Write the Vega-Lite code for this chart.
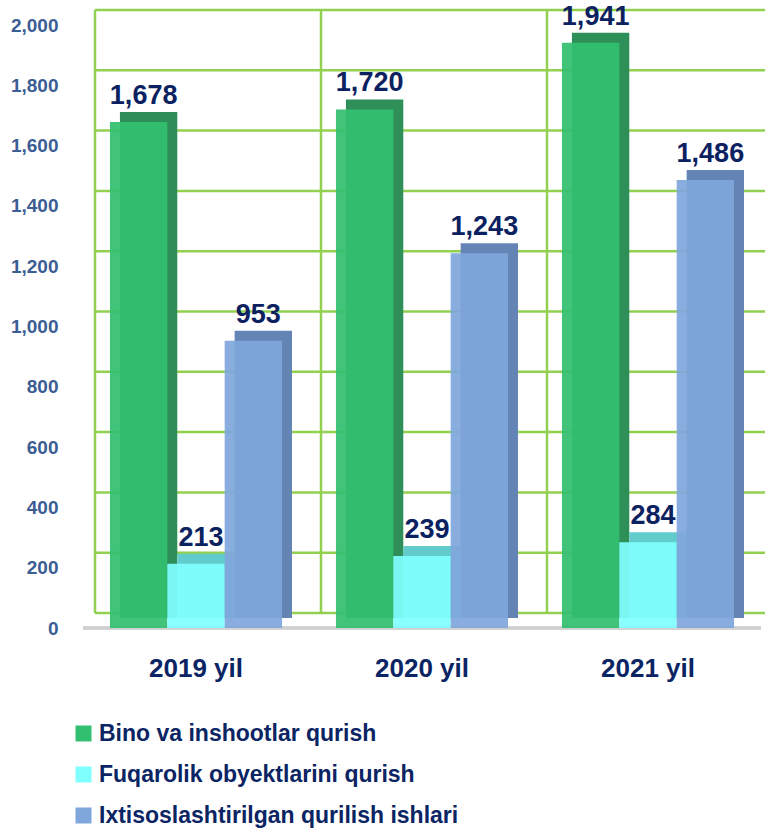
{
  "$schema": "https://vega.github.io/schema/vega-lite/v6.json",
  "width": 678,
  "height": 603,
  "autosize": {"type": "none"},
  "padding": {"left": 83, "top": 25, "right": 4, "bottom": 204},
  "background": "white",
  "config": {
    "view": {"stroke": null},
    "axisY": {"domain": false, "ticks": false, "grid": false, "labelPadding": 25, "labelFont": "Liberation Sans", "labelFontWeight": "bold", "labelFontSize": 19, "labelColor": "#3a5d94", "tickCount": 10, "format": ",d"},
    "axisX": {"domain": false, "ticks": false, "grid": false, "labelPadding": 27, "labelFont": "Liberation Sans", "labelFontWeight": "bold", "labelFontSize": 26, "labelColor": "#0b2463", "labelAngle": 0},
    "legend": {"orient": "none", "legendX": -11, "legendY": 697, "direction": "vertical", "symbolType": "square", "symbolSize": 256, "symbolStrokeWidth": 0, "symbolOpacity": 1, "labelFont": "Liberation Sans", "labelFontWeight": "bold", "labelFontSize": 23, "labelColor": "#0b2463", "rowPadding": 17, "labelOffset": 4, "labelLimit": 0, "title": null}
  },
  "datasets": {
    "bars": [
      {"year": "2019 yil", "series": "Bino va inshootlar qurish", "value": 1678},
      {"year": "2019 yil", "series": "Fuqarolik obyektlarini qurish", "value": 213},
      {"year": "2019 yil", "series": "Ixtisoslashtirilgan qurilish ishlari", "value": 953},
      {"year": "2020 yil", "series": "Bino va inshootlar qurish", "value": 1720},
      {"year": "2020 yil", "series": "Fuqarolik obyektlarini qurish", "value": 239},
      {"year": "2020 yil", "series": "Ixtisoslashtirilgan qurilish ishlari", "value": 1243},
      {"year": "2021 yil", "series": "Bino va inshootlar qurish", "value": 1941},
      {"year": "2021 yil", "series": "Fuqarolik obyektlarini qurish", "value": 284},
      {"year": "2021 yil", "series": "Ixtisoslashtirilgan qurilish ishlari", "value": 1486}
    ],
    "years": [{"year": "2019 yil"}, {"year": "2020 yil"}, {"year": "2021 yil"}],
    "ticks": [{"v": 0}, {"v": 200}, {"v": 400}, {"v": 600}, {"v": 800}, {"v": 1000}, {"v": 1200}, {"v": 1400}, {"v": 1600}, {"v": 1800}, {"v": 2000}]
  },
  "resolve": {"scale": {"xOffset": "independent", "color": "independent"}},
  "layer": [
    {
      "data": {"name": "ticks"},
      "mark": {"type": "rule", "color": "#92d050", "strokeWidth": 2.5, "xOffset": 12, "x2Offset": 12, "yOffset": -15},
      "encoding": {
        "x": {"datum": "2019 yil", "bandPosition": 0},
        "x2": {"value": "width"},
        "y": {"field": "v", "type": "quantitative", "scale": {"domain": [0, 2000]}, "title": null}
      }
    },
    {
      "data": {"name": "years"},
      "mark": {"type": "rule", "color": "#92d050", "strokeWidth": 2.5, "xOffset": 12, "yOffset": -15, "y2Offset": -15},
      "encoding": {
        "x": {"field": "year", "type": "nominal", "bandPosition": 0, "title": null, "scale": {"paddingInner": 0, "paddingOuter": 0}},
        "y": {"datum": 0, "type": "quantitative"},
        "y2": {"datum": 2000}
      }
    },
    {
      "data": {"name": "years"},
      "mark": {"type": "rule", "color": "#d0d0d0", "strokeWidth": 3},
      "encoding": {
        "y": {"datum": 0, "type": "quantitative"}
      }
    },
    {
      "data": {"name": "bars"},
      "mark": {"type": "bar", "yOffset": -10, "y2Offset": -10},
      "encoding": {
        "x": {"field": "year", "type": "nominal", "title": null},
        "xOffset": {"field": "series", "type": "nominal", "scale": {"paddingInner": 0, "paddingOuter": 0.47, "align": 0.685}},
        "y": {"field": "value", "type": "quantitative", "title": null},
        "color": {"field": "series", "type": "nominal", "scale": {"domain": ["Bino va inshootlar qurish", "Fuqarolik obyektlarini qurish", "Ixtisoslashtirilgan qurilish ishlari"], "range": ["#2e8f58", "#62cccc", "#6384b4"]}, "legend": null}
      }
    },
    {
      "data": {"name": "bars"},
      "layer": [
        {
          "mark": {"type": "bar", "opacity": 0.93},
          "encoding": {
            "x": {"field": "year", "type": "nominal", "title": null},
            "xOffset": {"field": "series", "type": "nominal", "scale": {"paddingInner": 0, "paddingOuter": 0.47}},
            "y": {"field": "value", "type": "quantitative", "title": null},
            "color": {"field": "series", "type": "nominal", "scale": {"domain": ["Bino va inshootlar qurish", "Fuqarolik obyektlarini qurish", "Ixtisoslashtirilgan qurilish ishlari"], "range": ["#33bf70", "#80ffff", "#7fa7dc"]}}
          }
        },
        {
          "mark": {"type": "text", "font": "Liberation Sans", "fontWeight": "bold", "fontSize": 27, "color": "#0b2160", "dx": 5, "dy": -18, "baseline": "alphabetic"},
          "encoding": {
            "x": {"field": "year", "type": "nominal", "title": null},
            "xOffset": {"field": "series", "type": "nominal"},
            "y": {"field": "value", "type": "quantitative", "title": null},
            "text": {"field": "value", "type": "quantitative", "format": ",d"}
          }
        }
      ]
    }
  ]
}
